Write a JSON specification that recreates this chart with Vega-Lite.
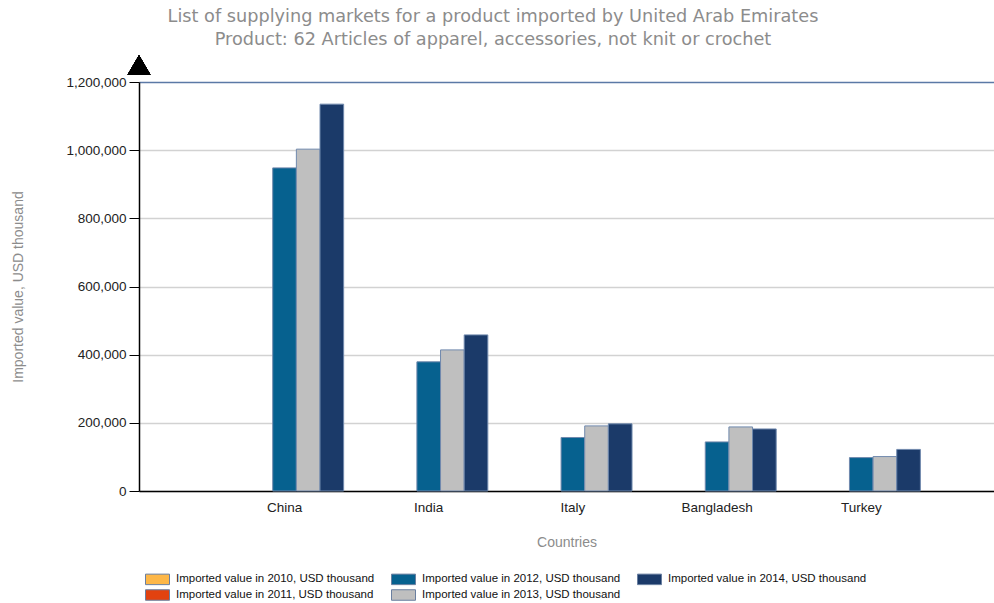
{
  "$schema": "https://vega.github.io/schema/vega-lite/v6.json",
  "width": 855,
  "height": 409,
  "autosize": {"type": "none"},
  "padding": {"left": 139, "top": 82, "right": 0, "bottom": 112},
  "title": {
    "text": ["List of supplying markets for a product imported by United Arab Emirates", "Product: 62 Articles of apparel, accessories, not knit or crochet"],
    "font": "DejaVu Sans",
    "fontSize": 17.7,
    "fontWeight": "normal",
    "color": "#8c8c8c",
    "lineHeight": 23,
    "anchor": "middle",
    "frame": "bounds",
    "dx": -10,
    "offset": 6
  },
  "data": {
    "values": [
      {"country": "China", "year": "2012", "value": 948000},
      {"country": "China", "year": "2013", "value": 1003000},
      {"country": "China", "year": "2014", "value": 1135000},
      {"country": "India", "year": "2012", "value": 379000},
      {"country": "India", "year": "2013", "value": 414000},
      {"country": "India", "year": "2014", "value": 458000},
      {"country": "Italy", "year": "2012", "value": 157000},
      {"country": "Italy", "year": "2013", "value": 191000},
      {"country": "Italy", "year": "2014", "value": 197000},
      {"country": "Bangladesh", "year": "2012", "value": 144000},
      {"country": "Bangladesh", "year": "2013", "value": 188000},
      {"country": "Bangladesh", "year": "2014", "value": 182000},
      {"country": "Turkey", "year": "2012", "value": 98000},
      {"country": "Turkey", "year": "2013", "value": 101000},
      {"country": "Turkey", "year": "2014", "value": 122000}
    ]
  },
  "layer": [
    {
      "mark": {"type": "bar", "stroke": "#7089ad", "strokeWidth": 1},
      "encoding": {
        "x": {
          "field": "country",
          "type": "nominal",
          "sort": ["China", "India", "Italy", "Bangladesh", "Turkey"],
          "scale": {"paddingInner": 0.18, "paddingOuter": 0.555, "align": 0.54},
          "axis": {
            "title": "Countries",
            "titleFont": "Liberation Sans",
            "titleFontSize": 14,
            "titleFontWeight": "normal",
            "titleColor": "#8c8c8c",
            "titlePadding": 22,
            "labelFont": "Liberation Sans",
            "labelFontSize": 13.5,
            "labelColor": "#222222",
            "labelAngle": 0,
            "labelPadding": 9,
            "ticks": false,
            "domainColor": "#000000",
            "domainWidth": 1.5,
            "grid": false
          }
        },
        "xOffset": {
          "field": "year",
          "type": "nominal",
          "scale": {"domain": ["2010", "2011", "2012", "2013", "2014"], "paddingInner": 0, "paddingOuter": 0}
        },
        "y": {
          "field": "value",
          "type": "quantitative",
          "scale": {"domain": [0, 1200000], "nice": false},
          "axis": {
            "title": "Imported value, USD thousand",
            "titleFont": "Liberation Sans",
            "titleFontSize": 14,
            "titleFontWeight": "normal",
            "titleColor": "#8c8c8c",
            "titlePadding": 40,
            "values": [0, 200000, 400000, 600000, 800000, 1000000, 1200000],
            "format": ",d",
            "labelFont": "Liberation Sans",
            "labelFontSize": 13.5,
            "labelColor": "#222222",
            "labelPadding": 3,
            "tickSize": 10,
            "tickColor": "#000000",
            "domainColor": "#000000",
            "domainWidth": 1.5,
            "grid": true,
            "gridColor": {"condition": {"test": "datum.value === 1200000", "value": "#5b79a6"}, "value": "#d2d2d2"},
            "gridWidth": 1.5
          }
        },
        "color": {
          "field": "year",
          "type": "nominal",
          "scale": {
            "domain": ["2010", "2012", "2014", "2011", "2013"],
            "range": ["#fdb748", "#06618f", "#1b3a69", "#e2420f", "#bfbfbf"]
          },
          "legend": {
            "title": null,
            "orient": "bottom",
            "direction": "horizontal",
            "columns": 3,
            "columnPadding": 14,
            "rowPadding": 0,
            "offset": 15,
            "padding": 6,
            "labelExpr": "'Imported value in ' + datum.label + ', USD thousand'",
            "labelFont": "Liberation Sans",
            "labelFontSize": 11.5,
            "labelColor": "#111111",
            "labelLimit": 300,
            "labelOffset": 15,
            "symbolType": "M-1,-0.7H2.2V0.7H-1Z",
            "symbolSize": 225,
            "symbolStrokeColor": "#6a7fa0",
            "symbolStrokeWidth": 1,
            "symbolOpacity": 1
          }
        }
      }
    },
    {
      "mark": {"type": "point", "shape": "triangle-up", "filled": true, "color": "#000000", "size": 520, "opacity": 1, "yOffset": -17},
      "encoding": {
        "x": {"value": 0},
        "y": {"datum": 1200000}
      }
    }
  ],
  "config": {
    "view": {"stroke": null}
  }
}
